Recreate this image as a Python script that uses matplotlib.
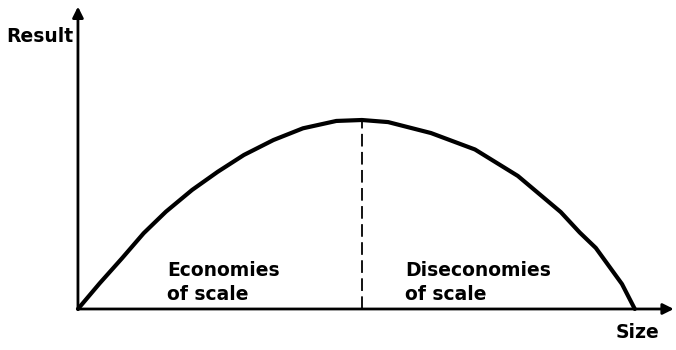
import matplotlib
matplotlib.use("Agg")
import matplotlib.pyplot as plt

###Curve (size 0-100, result 0-100 at the peak)
size = [0, 3.9, 7.9, 11.8, 15.8, 20.5, 25.1, 29.8, 35.1, 40.4, 46.4, 51.0,
        55.7, 63.4, 71.3, 79.0, 86.7, 90.1, 93.0, 97.7, 100]
result = [0, 13.6, 26.8, 40.1, 51.5, 63.0, 72.6, 81.5, 89.4, 95.6, 99.5, 100,
          98.9, 93.1, 84.4, 70.4, 51.3, 40.5, 32.3, 13.2, 0]
peak_size = 51.0
peak_result = 100

left_label = "Economies\nof scale"
right_label = "Diseconomies\nof scale"

###Figure at 676x350 px, axes fill the whole canvas
fig = plt.figure(figsize=(6.76, 3.5), dpi=100)
ax = fig.add_axes([0, 0, 1, 1])
ax.set_xlim(-14.0, 107.4)
ax.set_ylim(-21.7, 163.5)
ax.axis("off")

###Axes drawn as arrows
arrow = dict(arrowstyle="-|>", lw=2, color="black", mutation_scale=16, shrinkA=0, shrinkB=0)
ax.annotate("", xy=(0, 160), xytext=(0, 0), arrowprops=arrow)
ax.annotate("", xy=(107, 0), xytext=(0, 0), arrowprops=arrow)

###Curve and dashed peak line
ax.plot(size, result, color="black", lw=3.0, solid_capstyle="round", solid_joinstyle="round")
ax.plot([peak_size, peak_size], [0, peak_result], color="black", lw=1.3, dashes=(7, 3))

font = dict(family="DejaVu Sans", weight="bold", size=13.5, color="black")
ax.text(-0.8, 144, "Result", ha="right", va="center", **font)
ax.text(100.4, -12.5, "Size", ha="center", va="center", **font)
ax.text(16.0, 14.0, left_label, ha="left", va="center", linespacing=1.35, **font)
ax.text(58.7, 14.0, right_label, ha="left", va="center", linespacing=1.35, **font)

fig.savefig("out.png", dpi=100)
